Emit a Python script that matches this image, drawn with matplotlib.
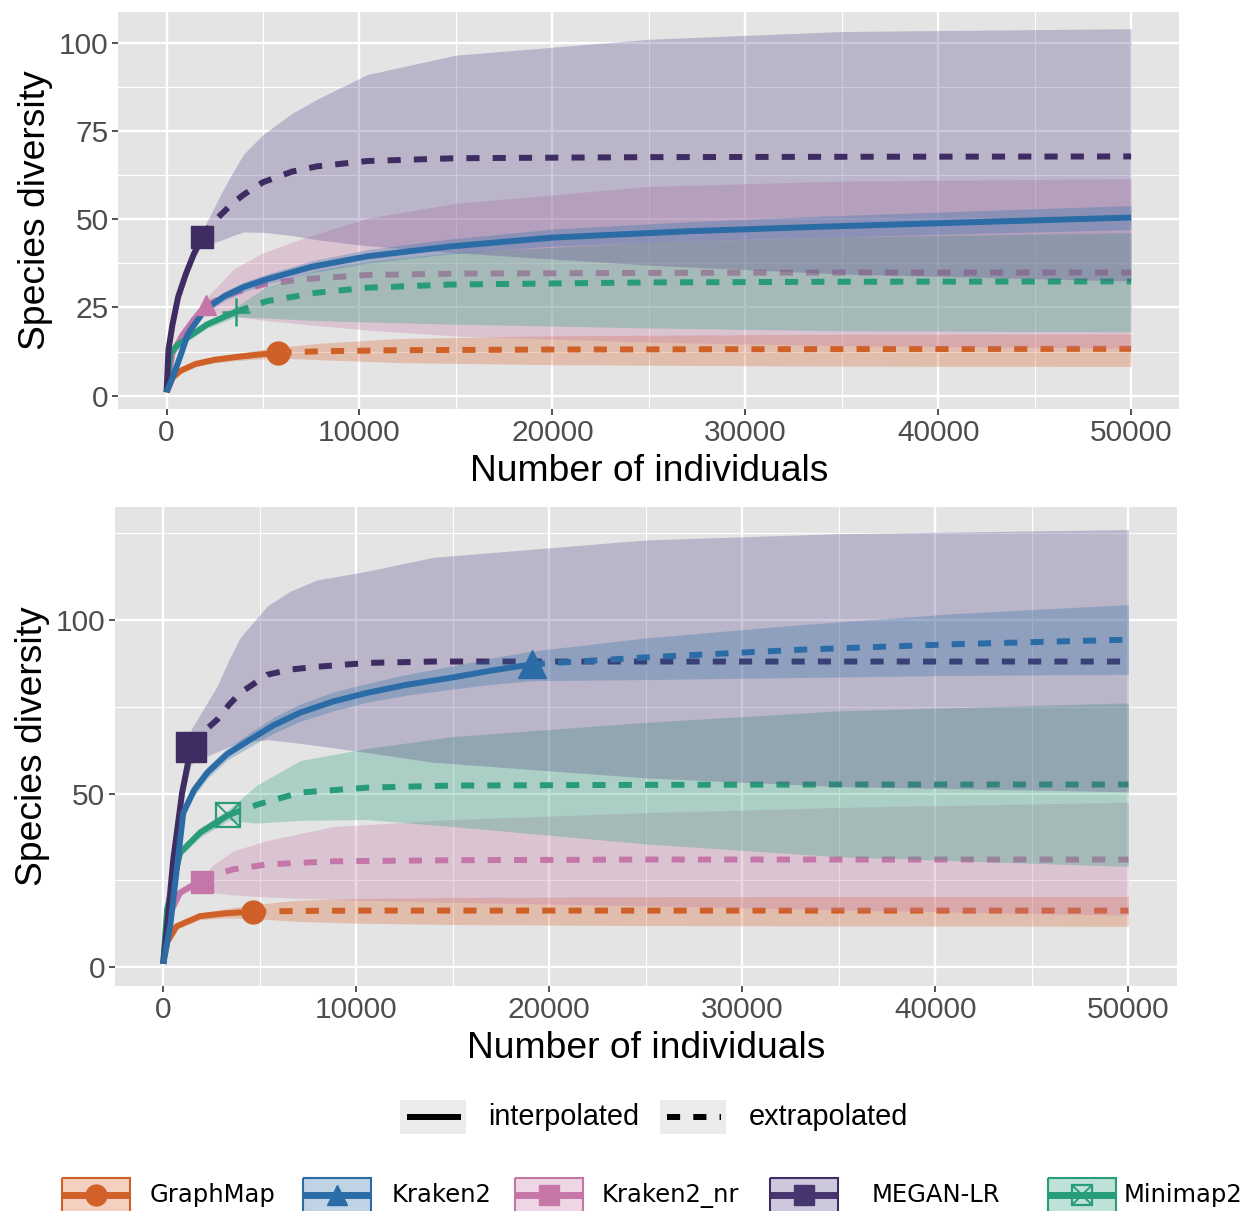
import numpy as np
import matplotlib
matplotlib.use("Agg")
import matplotlib.pyplot as plt
from matplotlib.patches import Rectangle

methods = ["GraphMap", "Kraken2", "Kraken2_nr", "MEGAN-LR", "Minimap2"]

# ---- top panel: sample size, estimate, lower / upper CI ; obs = observed sample size
top_graphmap_x = [1, 300, 700, 1500, 2500, 3500, 4500, 5800, 8000, 12000, 20000, 34000, 50000]
top_graphmap_y = [1, 5, 7, 9, 10.2, 10.9, 11.5, 12.2, 12.6, 12.9, 13.1, 13.2, 13.3]
top_graphmap_lo = [1, 4.5, 6.3, 8.2, 9.3, 9.9, 10.3, 10.7, 10.2, 9.4, 8.8, 8.4, 8.3]
top_graphmap_hi = [1, 5.5, 7.8, 9.8, 11.1, 11.9, 12.7, 13.7, 14.9, 16.2, 17.0, 17.4, 17.5]
top_graphmap_obs = 5800

top_kraken2_x = [1, 300, 700, 1100, 2000, 3000, 4000, 5200, 7500, 10400, 14700, 20000, 27000, 34000, 42000, 50000]
top_kraken2_y = [1, 5, 11, 17.5, 24.5, 28.2, 30.8, 33, 36.5, 39.5, 42.3, 44.8, 46.6, 47.9, 49.2, 50.5]
top_kraken2_lo = [1, 4.5, 10.2, 16.5, 23.3, 26.9, 29.4, 31.5, 34.8, 37.6, 40.2, 42.4, 43.9, 44.9, 46.0, 47.1]
top_kraken2_hi = [1, 5.5, 11.8, 18.5, 25.7, 29.5, 32.2, 34.5, 38.2, 41.4, 44.4, 47.2, 49.3, 50.9, 52.4, 53.9]
top_kraken2_obs = 50000

top_kraken2nr_x = [1, 300, 800, 1400, 2036, 3500, 5000, 7000, 10400, 15000, 25000, 35000, 50000]
top_kraken2nr_y = [1, 12, 17, 21.5, 25.7, 29.2, 31.5, 33, 34.2, 34.6, 34.8, 34.9, 34.9]
top_kraken2nr_lo = [1, 11, 15.8, 20, 23.8, 22.5, 21.4, 20.3, 18.6, 16.9, 15.2, 14.2, 13.5]
top_kraken2nr_hi = [1, 13, 18.2, 23, 27.6, 36, 40.5, 44.5, 50.3, 54.5, 59.3, 60.8, 61.5]
top_kraken2nr_obs = 2036

top_megan_x = [1, 100, 300, 600, 1000, 1400, 1830, 2300, 2800, 3400, 4000, 5000, 6500, 7800, 10400, 15000, 25000, 35000, 50000]
top_megan_y = [1, 13, 20, 28, 34.5, 40, 44.9, 48.3, 51.2, 54.4, 57, 60.5, 63.5, 65, 66.5, 67.3, 67.6, 67.7, 67.8]
top_megan_lo = [1, 12.5, 19.3, 27, 33.3, 38.6, 42.5, 43.2, 44, 45.3, 46.4, 46.3, 45.4, 44.2, 42.5, 40.5, 37, 34.5, 32.5]
top_megan_hi = [1, 13.5, 20.7, 29, 35.7, 41.4, 46.6, 51.5, 57, 63, 68.5, 74, 80, 84, 91, 96.5, 101, 103.2, 104]
top_megan_obs = 1830

top_minimap_x = [1, 200, 600, 1100, 2100, 3600, 5200, 7800, 10400, 14700, 25000, 35000, 50000]
top_minimap_y = [1, 12, 14.5, 16.5, 20.2, 23.8, 26.8, 29.2, 30.6, 31.5, 32.1, 32.3, 32.4]
top_minimap_lo = [1, 11.3, 13.7, 15.6, 19.1, 22.4, 22.0, 21.3, 20.9, 20.3, 19.2, 18.4, 18.1]
top_minimap_hi = [1, 12.7, 15.3, 17.4, 21.3, 25.2, 31, 35.5, 38, 40.5, 43.5, 45, 46.2]
top_minimap_obs = 3600

# ---- bottom panel
bot_graphmap_x = [1, 200, 700, 1900, 3200, 4660, 7000, 10000, 15000, 25000, 35000, 50000]
bot_graphmap_y = [1, 7.2, 11.8, 14.7, 15.5, 16.0, 16.2, 16.3, 16.3, 16.3, 16.3, 16.3]
bot_graphmap_lo = [1, 6.6, 11.0, 13.7, 14.2, 14.0, 13.2, 12.7, 12.3, 12.0, 11.9, 11.8]
bot_graphmap_hi = [1, 7.8, 12.6, 15.7, 16.8, 18.0, 19.3, 19.8, 20.1, 20.3, 20.4, 20.4]
bot_graphmap_obs = 4660

bot_kraken2_x = [1, 360, 1040, 1600, 2280, 3300, 4500, 5700, 7100, 8800, 10570, 12600, 14870, 17000, 19090, 25000, 33000, 41000, 50000]
bot_kraken2_y = [1, 11.8, 44.5, 51, 56, 61.3, 65.5, 69.6, 73.3, 76.5, 79, 81.3, 83.3, 85.4, 87.2, 89.2, 91.4, 93, 94.3]
bot_kraken2_lo = [1, 10.8, 42.8, 49.3, 54.3, 59.6, 63.5, 67.3, 70.8, 73.8, 76.3, 78.3, 80.0, 81.4, 82.5, 82.8, 83.4, 84.0, 84.3]
bot_kraken2_hi = [1, 12.8, 46.2, 52.7, 57.7, 63.0, 67.5, 71.9, 75.8, 79.2, 81.7, 84.3, 86.6, 89.0, 91.0, 94.8, 98.6, 101.8, 104.4]
bot_kraken2_obs = 19090

bot_kraken2nr_x = [1, 200, 880, 1400, 1990, 2600, 3630, 5390, 8800, 14870, 25000, 35000, 50000]
bot_kraken2nr_y = [1, 13.8, 21.5, 23.2, 24.6, 26.5, 28.2, 29.6, 30.5, 30.8, 31, 31, 31]
bot_kraken2nr_lo = [1, 13.0, 20.5, 22.1, 23.4, 21.5, 20.8, 20.2, 19.5, 18.7, 17.7, 16.5, 15]
bot_kraken2nr_hi = [1, 14.6, 22.5, 24.3, 25.8, 29.5, 33.5, 36.5, 40.5, 42.5, 44.5, 46, 47.5]
bot_kraken2nr_obs = 1990

bot_megan_x = [1, 200, 520, 980, 1450, 2100, 2800, 3400, 4000, 5390, 6600, 7980, 10570, 14000, 25000, 35000, 50000]
bot_megan_y = [1, 11.8, 31, 50.3, 63.5, 67.8, 71.3, 75.5, 79, 84.2, 85.7, 86.5, 87.6, 88, 88, 88, 88]
bot_megan_lo = [1, 10.5, 29, 47.5, 58.5, 60.4, 62, 63.5, 64.8, 65.5, 64.8, 63.8, 61.8, 59, 54.5, 52, 50.5]
bot_megan_hi = [1, 12.6, 32, 51.6, 68.5, 74.5, 81, 88.5, 95, 104, 108.3, 111.5, 114, 118, 123, 124.8, 126]
bot_megan_obs = 1450

bot_minimap_x = [1, 200, 880, 1920, 3370, 4870, 7100, 10570, 15000, 25000, 35000, 50000]
bot_minimap_y = [1, 16.7, 33, 38.8, 43.8, 46.8, 50.3, 51.7, 52.3, 52.5, 52.6, 52.6]
bot_minimap_lo = [1, 15.8, 31.8, 37.4, 42.2, 41.5, 42.3, 42.5, 40.5, 35.5, 31.8, 29]
bot_minimap_hi = [1, 17.6, 34.2, 40.2, 45.4, 52.5, 59.5, 63, 66.4, 70.5, 73.8, 76.1]
bot_minimap_obs = 3370

x_ticks = [0, 10000, 20000, 30000, 40000, 50000]
top_yticks = [0, 25, 50, 75, 100]
bot_yticks = [0, 50, 100]

# ---- styles
line_col = {"GraphMap": "#CF6128", "Kraken2": "#2B6CA6", "Kraken2_nr": "#C576A8",
            "MEGAN-LR": "#3E2C62", "Minimap2": "#289C78"}
fill_col = {"GraphMap": "#D8642C", "Kraken2": "#2E70AA", "Kraken2_nr": "#C97AAB",
            "MEGAN-LR": "#5B4A8B", "Minimap2": "#2AA07C"}
# layering order of (ribbon, line) pairs, bottom to top
layer_order = ["GraphMap", "Kraken2_nr", "Minimap2", "MEGAN-LR", "Kraken2"]
top_marker = {"GraphMap": "o", "Kraken2": None, "Kraken2_nr": "^", "MEGAN-LR": "s", "Minimap2": "+"}
bot_marker = {"GraphMap": "o", "Kraken2": "^", "Kraken2_nr": "s", "MEGAN-LR": "s", "Minimap2": "boxx"}
top_msize = {"GraphMap": 16.5, "Kraken2_nr": 15, "MEGAN-LR": 16.5, "Minimap2": 20}
bot_msize = {"GraphMap": 16.5, "Kraken2": 20, "Kraken2_nr": 16, "MEGAN-LR": 21, "Minimap2": 17}

top_curves = [
    ("GraphMap", top_graphmap_x, top_graphmap_y, top_graphmap_lo, top_graphmap_hi, top_graphmap_obs),
    ("Kraken2", top_kraken2_x, top_kraken2_y, top_kraken2_lo, top_kraken2_hi, top_kraken2_obs),
    ("Kraken2_nr", top_kraken2nr_x, top_kraken2nr_y, top_kraken2nr_lo, top_kraken2nr_hi, top_kraken2nr_obs),
    ("MEGAN-LR", top_megan_x, top_megan_y, top_megan_lo, top_megan_hi, top_megan_obs),
    ("Minimap2", top_minimap_x, top_minimap_y, top_minimap_lo, top_minimap_hi, top_minimap_obs),
]
bot_curves = [
    ("GraphMap", bot_graphmap_x, bot_graphmap_y, bot_graphmap_lo, bot_graphmap_hi, bot_graphmap_obs),
    ("Kraken2", bot_kraken2_x, bot_kraken2_y, bot_kraken2_lo, bot_kraken2_hi, bot_kraken2_obs),
    ("Kraken2_nr", bot_kraken2nr_x, bot_kraken2nr_y, bot_kraken2nr_lo, bot_kraken2nr_hi, bot_kraken2nr_obs),
    ("MEGAN-LR", bot_megan_x, bot_megan_y, bot_megan_lo, bot_megan_hi, bot_megan_obs),
    ("Minimap2", bot_minimap_x, bot_minimap_y, bot_minimap_lo, bot_minimap_hi, bot_minimap_obs),
]

plt.rcParams["font.family"] = ["Liberation Sans", "DejaVu Sans"]
LW = 4.3
DASH = (0, (2.2, 2.2))


def draw_marker(ax, name, x, y, m, ms, z=2.5):
    c = line_col[name]
    if m is None:
        return
    if m == "boxx":
        ax.plot([x], [y], marker="s", ms=ms, mfc="none", mec=c, mew=1.6, zorder=z)
        ax.plot([x], [y], marker="x", ms=ms * 0.92, mec=c, mew=1.4, zorder=z)
    elif m == "+":
        ax.plot([x], [y], marker="+", ms=ms, mec=c, mew=1.8, zorder=z)
    else:
        ax.plot([x], [y], marker=m, ms=ms, color=c, mec=c, zorder=z)


def draw_panel(ax, curves, markers, msizes, ylim, yticks, yminor):
    ax.set_facecolor("#E4E4E4")
    for name, x, y, lo, hi, obs in curves:
        z = 2 + layer_order.index(name) * 0.1
        ax.fill_between(x, lo, hi, color=fill_col[name], alpha=0.3, lw=0, zorder=z)
        x = np.array(x, float)
        y = np.array(y, float)
        m = x <= obs
        ax.plot(x[m], y[m], color=line_col[name], lw=LW, solid_capstyle="butt",
                solid_joinstyle="round", zorder=z + 0.03)
        e = x >= obs
        if e.sum() > 1:
            ax.plot(x[e], y[e], color=line_col[name], lw=LW, ls=DASH,
                    dash_capstyle="butt", zorder=z + 0.03)
        yo = np.interp(obs, x, y)
        draw_marker(ax, name, obs, yo, markers[name], msizes.get(name, 16), z=4)

    ax.set_xlim(-2500, 52500)
    ax.set_ylim(*ylim)
    ax.set_xticks(x_ticks)
    ax.set_xticklabels([str(t) for t in x_ticks])
    ax.set_xticks([5000, 15000, 25000, 35000, 45000], minor=True)
    ax.set_yticks(yticks)
    ax.set_yticklabels([str(t) for t in yticks])
    ax.set_yticks(yminor, minor=True)
    ax.grid(which="major", color="white", lw=1.7, zorder=0)
    ax.grid(which="minor", color="white", lw=0.8, zorder=0)
    ax.set_axisbelow(True)
    for s in ax.spines.values():
        s.set_visible(False)
    ax.tick_params(which="major", length=4, width=1.2, color="#333333",
                   labelsize=21.5, labelcolor="#4D4D4D", pad=3)
    ax.tick_params(which="minor", length=0)
    ax.set_xlabel("Number of individuals", fontsize=26.8, labelpad=5)
    ax.set_ylabel("Species diversity", fontsize=26.8, labelpad=4)


fig = plt.figure(figsize=(12.55, 12.11), dpi=100)
ax1 = fig.add_axes([0.0943, 0.6620, 0.8454, 0.3283])
ax2 = fig.add_axes([0.0916, 0.1858, 0.8460, 0.3953])

draw_panel(ax1, top_curves, top_marker, top_msize, (-3.85, 108.8),
           top_yticks, [12.5, 37.5, 62.5, 87.5])
draw_panel(ax2, bot_curves, bot_marker, bot_msize, (-5.4, 132.4),
           bot_yticks, [25, 75, 125])

# ---- legends, drawn in a pixel-space overlay
lg = fig.add_axes([0, 0, 1, 1])
lg.set_xlim(0, 1255)
lg.set_ylim(1211, 0)
lg.axis("off")

# line type legend
lt_keys = [(400, "-", "interpolated", 488), (660, DASH, "extrapolated", 749)]
for kx, ls, label, tx in lt_keys:
    lg.add_patch(Rectangle((kx, 1100), 66, 34, facecolor="#EBEBEB", edgecolor="none"))
    lg.plot([kx + 7, kx + 61], [1117, 1117], color="black", lw=LW, ls=ls,
            solid_capstyle="butt", dash_capstyle="butt")
    lg.text(tx, 1117, label, fontsize=20.8, va="center", ha="left")

# method legend
key_x = [62, 303, 515, 770, 1048]
text_x = [150, 392, 602, 872, 1124]
leg_marker = {"GraphMap": "o", "Kraken2": "^", "Kraken2_nr": "s", "MEGAN-LR": "s", "Minimap2": "boxx"}
for name, kx, tx in zip(methods, key_x, text_x):
    c = line_col[name]
    lg.plot([kx, kx + 68], [1195, 1195], color=c, lw=5, solid_capstyle="butt", zorder=2)
    draw_marker(lg, name, kx + 34, 1195, leg_marker[name], 15, z=2)
    lg.add_patch(Rectangle((kx, 1178), 68, 36, facecolor=fill_col[name], alpha=0.3,
                           edgecolor="none", zorder=3))
    lg.add_patch(Rectangle((kx, 1178), 68, 36, facecolor="none", edgecolor=c, lw=1.5,
                           zorder=3))
    lg.text(tx, 1195, name, fontsize=17.5, va="center", ha="left", family="DejaVu Sans")

fig.savefig("out.png", dpi=100)
